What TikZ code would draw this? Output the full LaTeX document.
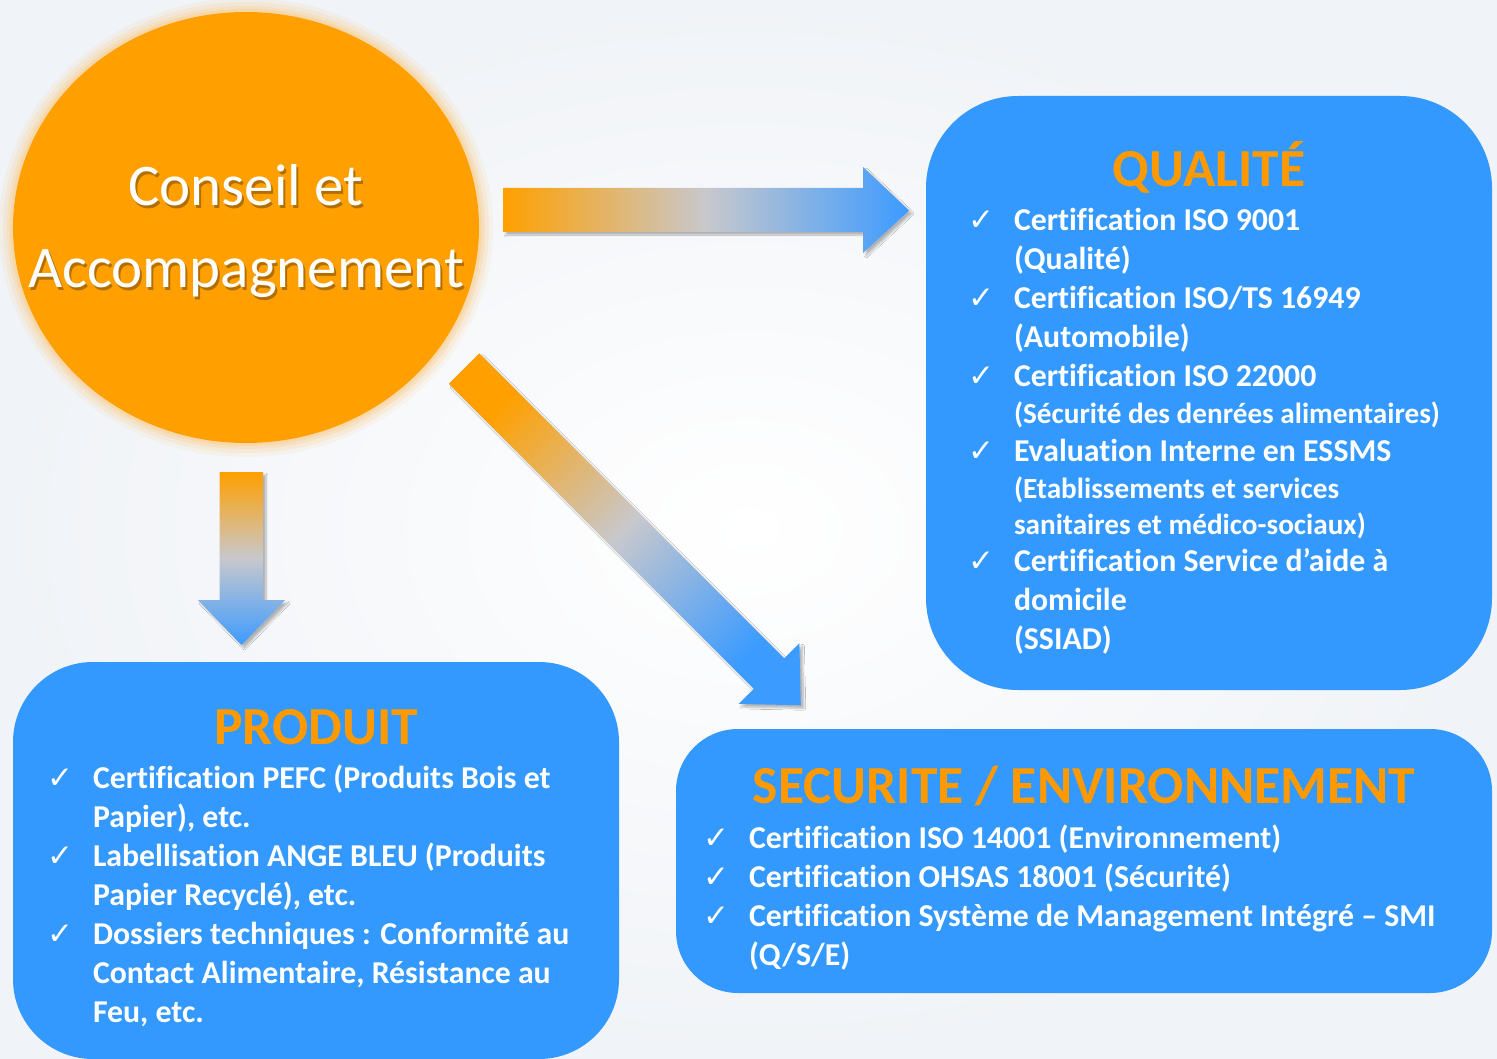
\documentclass[tikz,border=0pt]{standalone}
\usepackage{fontspec}
\setmainfont{Carlito}[Ligatures=NoCommon]
\newfontfamily\symb{DejaVu Sans}
\usetikzlibrary{calc, positioning, shapes.geometric, shadows.blur}

\definecolor{orangeC}{RGB}{255,160,0}
\definecolor{titreC}{RGB}{255,153,0}
\definecolor{bleuC}{RGB}{51,153,255}
\definecolor{flecheB}{RGB}{60,155,255}
\definecolor{gris}{RGB}{200,200,205}
\definecolor{halo}{RGB}{250,205,140}
\definecolor{fond}{RGB}{240,243,247}

\newcommand{\coche}{{\symb\fontsize{31}{31}\selectfont ✓}}
\newcommand{\petit}{\fontsize{29.2}{36}\selectfont}

\tikzset{
  boite/.style={fill=bleuC, draw=none, inner sep=0pt},
  titre/.style={anchor=base, inner sep=0pt, text=titreC, font=\fontsize{53.5}{60}\selectfont\bfseries},
  liste/.style={anchor=base west, inner sep=0pt, text=white, font=\fontsize{31.8}{39}\selectfont\bfseries},
  fleche/.style={draw=none, blur shadow={shadow xshift=3pt, shadow yshift=-3pt, shadow opacity=28, shadow blur steps=8}},
  cercletxt/.style={align=center, inner sep=0pt, font=\fontsize{59}{82}\selectfont},
}

\begin{document}
\begin{tikzpicture}[x=1pt,y=-1pt]
  \useasboundingbox (0,0) rectangle (1497,1059);
  \shade[inner color=white, outer color=fond] (0,0) rectangle (1497,1059); % fond

  % cercle central
  \foreach \r/\o in {14/0.12, 10/0.2, 6/0.3, 3/0.4} {
    \fill[halo, opacity=\o] (246,227.5) ellipse [x radius=233+\r, y radius=215.5+\r];
  }
  \node[ellipse, fill=orangeC, minimum width=466pt, minimum height=431pt, inner sep=0pt] (conseil) at (246,227.5) {};
  \node[cercletxt, text=black, opacity=0.3] (ombre) at ($(conseil.center)+(2,6.5)$) {Conseil et\\Accompagnement};
  \node[cercletxt, text=white] (conseiltxt) at ($(conseil.center)+(0,4)$) {Conseil et\\Accompagnement};

  % fleches
  \path[fleche, left color=orangeC, right color=flecheB, middle color=gris]
    (503,188) -- (863,188) -- (863,167) -- (909,210.5) -- (863,253) -- (863,232) -- (503,232) -- cycle; % vers QUALITE
  \path[fleche, top color=orangeC, bottom color=flecheB, middle color=gris]
    (219.5,472) -- (263,472) -- (263,600) -- (285,600) -- (241.5,645) -- (198,600) -- (219.5,600) -- cycle; % vers PRODUIT
  \path[fleche, top color=orangeC, bottom color=flecheB, middle color=gris, shading angle=45]
    (479.2,353.3) -- (784.2,658.3) -- (799.4,643.1) -- (800.8,705.3) -- (738.6,703.9) -- (753.8,688.7) -- (448.8,383.7) -- cycle; % vers SECURITE

  % boites
  \node[boite, minimum width=566pt, minimum height=594pt, rounded corners=92pt] (qualite) at (1209,393) {};
  \node[boite, minimum width=606pt, minimum height=397pt, rounded corners=80pt] (produit) at (316,860.5) {};
  \node[boite, minimum width=816pt, minimum height=264pt, rounded corners=62pt] (secu) at (1084,861) {};

  \node[titre] (tq) at ($(qualite.north)+(0,91)$) {QUALITÉ};
  \node[titre] (tp) at ($(produit.north)+(0,83)$) {PRODUIT};
  \node[titre] (ts) at ($(secu.north)+(0,75)$) {SECURITE / ENVIRONNEMENT};

  \node[liste] (lq) at ($(qualite.north west)+(42,135)$) {\begin{tabular}[t]{@{}p{46pt}@{}l@{}}
    \coche & Certification ISO 9001\\
           & (Qualité)\\
    \coche & Certification ISO/TS 16949\\
           & (Automobile)\\
    \coche & Certification ISO 22000\\[-2pt]
           & \petit (Sécurité des denrées alimentaires)\\[-1pt]
    \coche & Evaluation Interne en ESSMS\\[-2pt]
           & \petit (Etablissements et services\\[-3pt]
           & \petit sanitaires et médico-sociaux)\\[-2pt]
    \coche & Certification Service d’aide à\\
           & domicile\\
           & (SSIAD)
  \end{tabular}};

  \node[liste] (lp) at ($(produit.north west)+(34,127)$) {\begin{tabular}[t]{@{}p{46pt}@{}l@{}}
    \coche & Certification PEFC (Produits Bois et\\
           & Papier), etc.\\
    \coche & Labellisation ANGE BLEU (Produits\\
           & Papier Recyclé), etc.\\
    \coche & Dossiers techniques : Conformité au\\
           & Contact Alimentaire, Résistance au\\
           & Feu, etc.
  \end{tabular}};

  \node[liste] (ls) at ($(secu.north west)+(27,120)$) {\begin{tabular}[t]{@{}p{46pt}@{}l@{}}
    \coche & Certification ISO 14001 (Environnement)\\
    \coche & Certification OHSAS 18001 (Sécurité)\\
    \coche & Certification Système de Management Intégré – SMI\\
           & (Q/S/E)
  \end{tabular}};
\end{tikzpicture}
\end{document}
